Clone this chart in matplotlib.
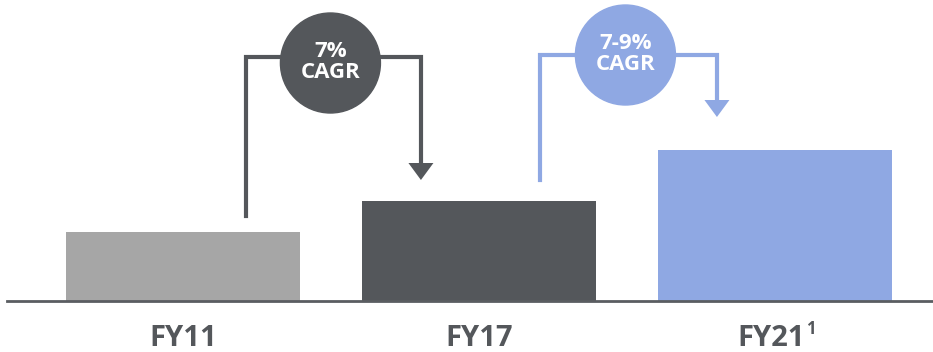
import matplotlib.pyplot as plt
from matplotlib.patches import Ellipse

years = ["FY11", "FY17", "FY21"]
footnotes = ["", "", "1"]
values = [69, 100, 151]
bar_colors = ["#a6a6a6", "#54575b", "#8fa8e3"]
cagr_labels = ["7%\nCAGR", "7-9%\nCAGR"]
cagr_colors = ["#54575b", "#8fa8e3"]

plt.rcParams['font.family'] = ['Open Sans', 'DejaVu Sans']

fig = plt.figure(figsize=(9.33, 3.52), dpi=100)
ax = fig.add_axes([0, 0, 1, 1])
ax.set_xlim(-0.618, 2.534)
ax.set_ylim(-51, 301)
ax.axis("off")

x = list(range(len(years)))
ax.bar(x, values, width=0.79, color=bar_colors, zorder=2)
ax.axhline(0, xmin=0.008, xmax=1, color="#5a5d61", lw=2, zorder=3)

# x labels
px_x = 1 / 296.0
for i, name in enumerate(years):
    shift = -4 * px_x if footnotes[i] else 0
    ax.text(i + shift, -37, name, ha="center", va="center", fontsize=21,
            fontweight="bold", color="#54575b")
    if footnotes[i]:
        ax.text(i + 31.5 * px_x, -28, footnotes[i], ha="left", va="center",
                fontsize=12, fontweight="bold", color="#54575b")

# CAGR connectors: start above bar i, end pointing at bar i+1
starts = [(0 + 63 * px_x, values[0] + 16), (1 + 61 * px_x, values[1] + 21)]
ends = [(1 - 58 * px_x, values[1] + 21), (2 - 58 * px_x, values[2] + 33)]
tops = [244, 246]
circle_y = [238, 246]
for k in range(2):
    c = cagr_colors[k]
    sx, sy = starts[k]
    ex, ey = ends[k]
    top = tops[k]
    ax.plot([sx, sx, ex, ex], [sy, top, top, ey + 14], color=c, lw=3,
            solid_joinstyle="miter", zorder=1)
    ax.fill([ex - 12.5 * px_x, ex + 12.5 * px_x, ex], [ey + 17, ey + 17, ey],
            color=c, zorder=1, lw=0)
    cx = (sx + ex) / 2 - 3 * px_x
    ax.add_patch(Ellipse((cx, circle_y[k]), 100 * px_x, 100, color=c, zorder=4))
    ax.text(cx, circle_y[k] + 1, cagr_labels[k], ha="center", va="center",
            fontsize=16, fontweight="bold", color="white", linespacing=0.95,
            zorder=5)

fig.savefig("out.png", dpi=100)
